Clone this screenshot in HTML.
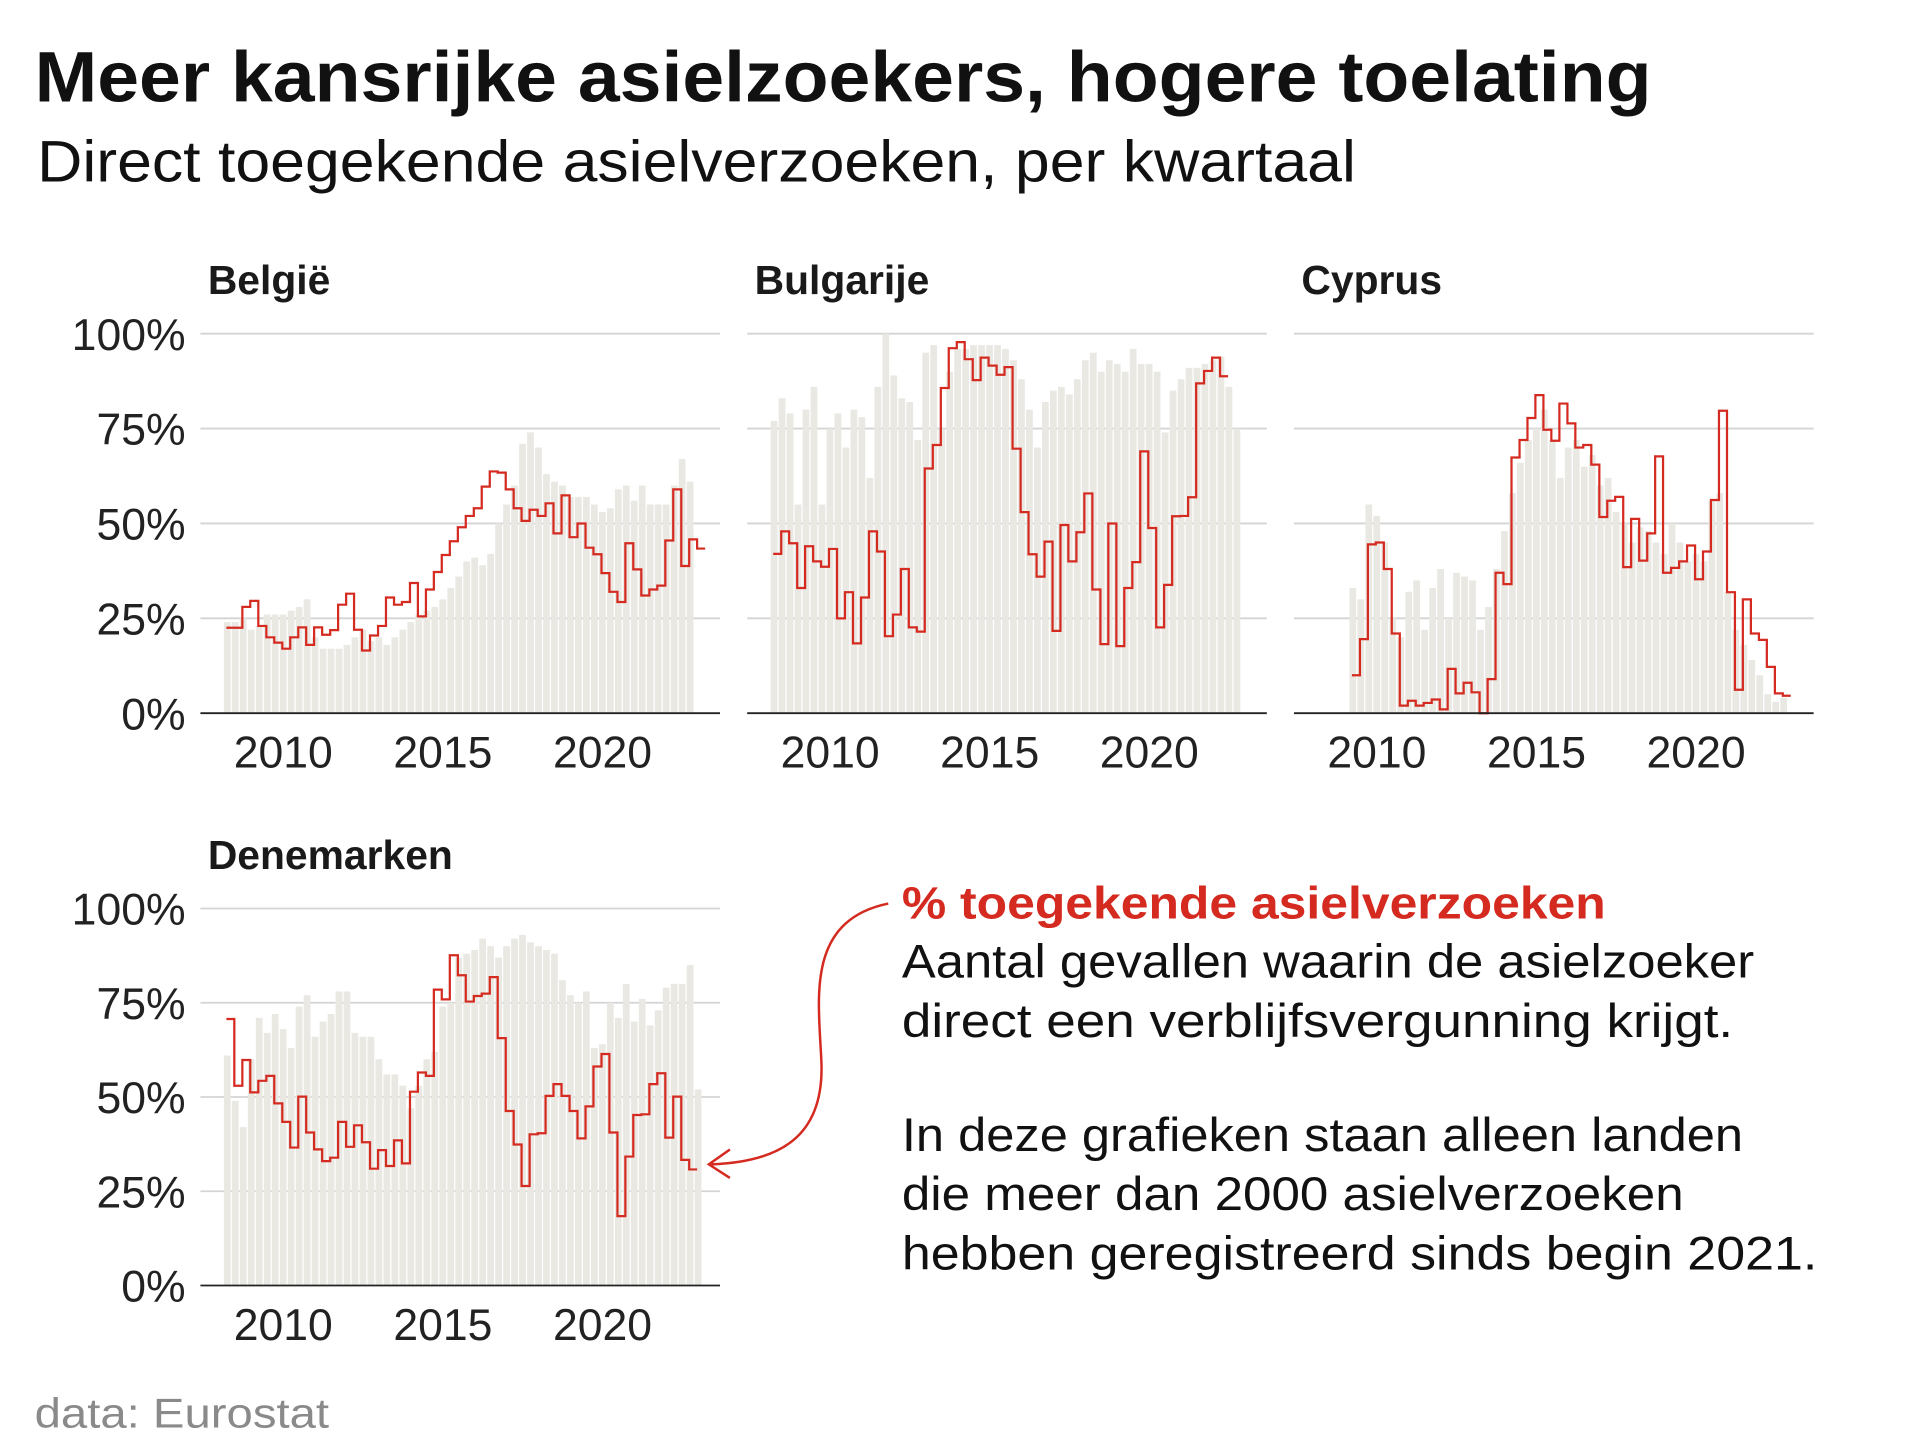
<!DOCTYPE html>
<html><head><meta charset="utf-8">
<style>
html,body{margin:0;padding:0;background:#fff;}
svg{display:block;font-family:"Liberation Sans",sans-serif;}
</style></head>
<body>
<svg id="s" width="1920" height="1440" viewBox="0 0 1552 1165" preserveAspectRatio="none" xmlns="http://www.w3.org/2000/svg">
<rect width="1552" height="1165" fill="#fff"/>
<text x="28" y="82" font-size="58" font-weight="bold" fill="#111" textLength="1307" lengthAdjust="spacingAndGlyphs">Meer kansrijke asielzoekers, hogere toelating</text>
<text x="30" y="147" font-size="47" fill="#111" textLength="1066" lengthAdjust="spacingAndGlyphs">Direct toegekende asielverzoeken, per kwartaal</text>
<g id="charts"></g>
<text x="729" y="743" font-size="37" font-weight="bold" fill="#d42a20" textLength="569" lengthAdjust="spacingAndGlyphs">% toegekende asielverzoeken</text>
<g font-size="38" fill="#111">
<text x="729" y="791" textLength="689" lengthAdjust="spacingAndGlyphs">Aantal gevallen waarin de asielzoeker</text>
<text x="729" y="839" textLength="672" lengthAdjust="spacingAndGlyphs">direct een verblijfsvergunning krijgt.</text>
<text x="729" y="931" textLength="680" lengthAdjust="spacingAndGlyphs">In deze grafieken staan alleen landen</text>
<text x="729" y="979" textLength="632" lengthAdjust="spacingAndGlyphs">die meer dan 2000 asielverzoeken</text>
<text x="729" y="1027" textLength="740" lengthAdjust="spacingAndGlyphs">hebben geregistreerd sinds begin 2021.</text>
</g>
<path d="M718,731 C650,745 662,810 664,860 C666,920 630,940 575,942" fill="none" stroke="#d42a20" stroke-width="2"/>
<path d="M590,930 L573,942 L590,953" fill="none" stroke="#d42a20" stroke-width="2"/>
<text x="28" y="1155" font-size="34" fill="#8a8a8a" textLength="238" lengthAdjust="spacingAndGlyphs">data: Eurostat</text>
</svg>
<script>
var NS="http://www.w3.org/2000/svg";
var g=document.getElementById("charts");
function el(t,a,txt){var e=document.createElementNS(NS,t);for(var k in a)e.setAttribute(k,a[k]);if(txt)e.textContent=txt;g.appendChild(e);return e;}
var W=6.45;
var P=[
{name:"België",x:162,y0:577,y1:270,start:0,
bars:[24,24,25,22,23,26,26,26,27,28,30,20,17,17,17,18,20,22,19,20,18,20,22,24,26,27,28,30,33,36,40,41,39,42,50,55,60,71,74,70,63,61,60,57,57,57,55,53,54,59,60,56,60,55,55,55,60,67,61],
red:[22.5,22.5,28,29.6,23,20,18.6,17,20,22.6,18,22.6,20.7,21.9,28.6,31.5,22,16.5,20.5,23,30.5,28.6,29.3,34.3,25.5,32.6,37.2,41.7,45.3,49,52,54,59.7,63.7,63.4,59,54,50.7,53.6,52,55.3,47.4,57.4,46.4,50,43.6,41.9,36.9,32,29.3,44.8,37.9,31,32.6,33.6,45.5,59,38.8,45.8,43.4]},
{name:"Bulgarije",x:604,y0:577,y1:270,start:0,
bars:[77,83,79,55,80,86,55,75,79,70,80,78,62,86,100,89,83,82,72,95,97,75,90,96,96,97,97,97,97,96,93,88,80,70,82,85,86,84,88,93,95,90,93,92,90,96,92,92,90,74,85,88,91,91,92,93,94,86,75],
red:[42,47.9,44.8,33,44,40,38.6,43.3,25,31.9,18.4,30.5,47.9,42.6,20.3,26,38,22.6,21.5,64.5,70.7,85.7,96.2,97.8,93.3,87.8,93.7,91.6,89.2,91.2,69.7,53,41.9,36,45.2,21.7,49.6,40,47.7,57.9,32.6,18.2,50,17.7,33,39.8,69,48.8,22.6,33.8,51.9,52,56.9,86.9,90.2,93.7,88.8]},
{name:"Cyprus",x:1046,y0:577,y1:270,start:4,
bars:[33,30,55,52,45,25,20,32,35,22,33,38,25,37,36,35,22,28,38,48,58,66,72,75,80,72,62,70,72,65,68,60,62,53,50,45,49,48,45,42,50,45,40,42,40,56,58,32,22,18,14,10,5,3,4],
red:[10,19.5,44.5,45,38,21,2,3.3,2,2.7,3.6,1,11.7,5.2,8,5.5,0,9,37,34,67.4,72,77.8,83.8,74.7,71.8,81.6,76.4,70,70.7,65.5,51.7,56,57,38.5,51.2,40.2,47.4,67.7,37,38.3,40,44.2,35.3,42.6,56.2,79.7,31.9,6.2,30,21,19.3,12.2,5.2,4.6]},
{name:"Denemarken",x:162,y0:1040,y1:735,start:0,
bars:[61,49,42,60,71,67,72,68,63,74,77,66,70,72,78,78,67,66,66,60,56,56,53,47,53,60,62,74,75,87,88,89,92,90,87,90,92,93,91,90,89,88,81,77,75,78,63,64,75,71,80,70,76,69,73,79,80,80,85,52],
red:[70.7,53,59.8,51.2,54.3,55.6,48.3,43.4,36.6,50.1,40.6,36.1,33,33.9,43.4,36.8,42.5,38,31,35.9,31.7,38.5,32.4,51.4,56.5,55.6,78.5,75.9,87.6,82.3,75.3,76.8,77.4,81.8,65.6,46.3,37.4,26.4,40.1,40.4,50.3,53.4,50.3,46.3,39,47.5,58.1,61.4,40.6,18.4,34.2,45.2,45.4,53.4,56.3,39.2,50.1,33.3,30.8]}
];
P.forEach(function(p){
  var sc=(p.y0-p.y1)/100;
  var ty=p.y1-32;
  el("text",{x:p.x+6,y:ty,"font-size":33,"font-weight":"bold",fill:"#1a1a1a"},p.name);
  [0,25,50,75,100].forEach(function(v){
    var y=p.y0-v*sc;
    if(v>0) el("line",{x1:p.x,x2:p.x+420,y1:y,y2:y,stroke:"#d4d4d4","stroke-width":1.5});
    if(p.x==162) el("text",{x:150,y:y+13,"font-size":36,fill:"#222","text-anchor":"end"},v+"%");
  });
  var bx=p.x+19+p.start*W;
  p.bars.forEach(function(v,i){
    el("rect",{x:bx+i*W,y:p.y0-v*sc,width:W-1,height:v*sc,fill:"#e9e8e3"});
  });
  var d="";
  var rx=bx+2;
  p.red.forEach(function(v,i){
    var y=(p.y0-v*sc).toFixed(1),x0=(rx+i*W).toFixed(1),x1=(rx+(i+1)*W).toFixed(1);
    d+=(i==0?"M":"L")+x0+","+y+"L"+x1+","+y;
  });
  el("path",{d:d,fill:"none",stroke:"#d42a20","stroke-width":1.8,"stroke-linejoin":"miter"});
  el("line",{x1:p.x,x2:p.x+420,y1:p.y0,y2:p.y0,stroke:"#222","stroke-width":1.5});
  [2010,2015,2020].forEach(function(yr,k){
    el("text",{x:p.x+67+k*129,y:p.y0+44,"font-size":36,fill:"#222","text-anchor":"middle"},""+yr);
  });
});
</script>
</body></html>
